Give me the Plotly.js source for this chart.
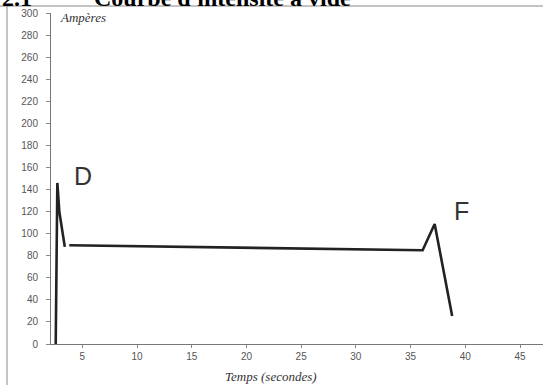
<!DOCTYPE html>
<html>
<head>
<meta charset="utf-8">
<script src="https://cdn.plot.ly/plotly-3.0.1.min.js"></script>
<style>html,body{margin:0;padding:0;background:#fff;}#chart{width:543px;height:385px;}</style>
</head>
<body>
<div id="chart"></div>
<script>
// Data (time in seconds, current in amperes)
var timeSec = [2.57, 2.64, 2.72, 2.9, 3.4, null, 3.81, 36.1, 37.2, 38.8];
var currentA = [0, 116, 146, 120, 88, null, 89.5, 85, 108.8, 25.4];
var xTickVals = [5, 10, 15, 20, 25, 30, 35, 40, 45];
var yTickVals = [0, 20, 40, 60, 80, 100, 120, 140, 160, 180, 200, 220, 240, 260, 280, 300];

var W = 543, H = 385, L = 51, R = 0, T = 13, B = 41;
var pw = W - L - R, ph = H - T - B;
function px2x(px) { return (px - L) / pw; }
function py2y(py) { return (H - B - py) / ph; }

var trace = {
  x: timeSec, y: currentA, type: 'scatter', mode: 'lines',
  line: {color: '#222', width: 2.6}, connectgaps: false, hoverinfo: 'none'
};

var tickFont = {family: 'Liberation Sans, Arial, sans-serif', size: 10, color: '#555'};

var layout = {
  width: W, height: H,
  margin: {l: L, r: R, t: T, b: B, pad: 0},
  paper_bgcolor: '#fff', plot_bgcolor: '#fff',
  showlegend: false,
  xaxis: {
    range: [2.14, 47.1], tickmode: 'array', tickvals: xTickVals,
    ticks: 'outside', ticklen: 3, tickcolor: '#888',
    showline: true, linecolor: '#777', linewidth: 1,
    showgrid: false, zeroline: false, tickfont: tickFont
  },
  yaxis: {
    range: [0, 300], tickmode: 'array', tickvals: yTickVals,
    ticks: 'outside', ticklen: 4, tickcolor: '#888',
    showline: true, linecolor: '#777', linewidth: 1,
    showgrid: false, zeroline: false, tickfont: tickFont,
    ticklabelstandoff: 6
  },
  shapes: [
    {type: 'line', xref: 'paper', yref: 'paper', x0: px2x(0), x1: px2x(543), y0: py2y(6), y1: py2y(6), line: {color: '#888', width: 1}},
    {type: 'line', xref: 'paper', yref: 'paper', x0: px2x(7), x1: px2x(7), y0: py2y(6), y1: py2y(385), line: {color: '#888', width: 1}}
  ],
  annotations: [
    {text: '<b>2.1</b>', xref: 'paper', yref: 'paper', x: px2x(0), y: py2y(-2), xanchor: 'left', yanchor: 'middle', showarrow: false,
     font: {family: 'Liberation Serif, Times New Roman, serif', size: 24, color: '#000'}},
    {text: '<b>Courbe d\'intensité à vide</b>', xref: 'paper', yref: 'paper', x: px2x(92), y: py2y(-2), xanchor: 'left', yanchor: 'middle', showarrow: false,
     font: {family: 'Liberation Serif, Times New Roman, serif', size: 24, color: '#000'}},
    {text: '<i>Ampères</i>', xref: 'paper', yref: 'paper', x: px2x(58), y: py2y(17), xanchor: 'left', yanchor: 'middle', showarrow: false,
     font: {family: 'Liberation Serif, Times New Roman, serif', size: 13, color: '#333'}},
    {text: '<i>Temps (secondes)</i>', xref: 'paper', yref: 'paper', x: px2x(271), y: py2y(376), xanchor: 'center', yanchor: 'middle', showarrow: false,
     font: {family: 'Liberation Serif, Times New Roman, serif', size: 13, color: '#333'}},
    {text: 'D', xref: 'paper', yref: 'paper', x: px2x(83), y: py2y(176), xanchor: 'center', yanchor: 'middle', showarrow: false,
     font: {family: 'Liberation Sans, Arial, sans-serif', size: 25, color: '#333'}},
    {text: 'F', xref: 'paper', yref: 'paper', x: px2x(461), y: py2y(211), xanchor: 'center', yanchor: 'middle', showarrow: false,
     font: {family: 'Liberation Sans, Arial, sans-serif', size: 25, color: '#333'}}
  ]
};

Plotly.newPlot('chart', [trace], layout, {staticPlot: true, displayModeBar: false});
</script>
</body>
</html>
